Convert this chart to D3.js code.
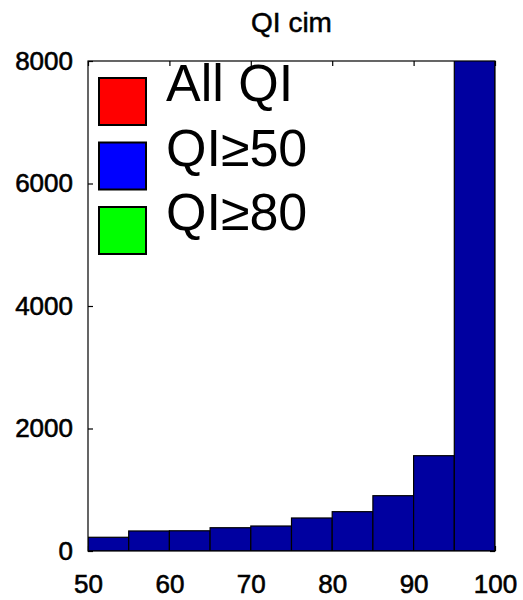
<!DOCTYPE html>
<html>
<head>
<meta charset="utf-8">
<script src="https://cdn.jsdelivr.net/npm/d3@7"></script>
<style>
  body { margin: 0; background: #fff; }
  text { font-family: "Liberation Sans", Arial, sans-serif; }
</style>
</head>
<body>
<div id="VizBox"></div>
<script>
// histogram bins (edges) and counts
var binStart = [50, 55, 60, 65, 70, 75, 80, 85, 90, 95];
var binWidth = 5;
var counts = [224, 327, 330, 380, 408, 539, 642, 903, 1556, 9500];

var xTicks = [50, 60, 70, 80, 90, 100];
var yTicks = [0, 2000, 4000, 6000, 8000];

var legendLabels = ["All QI", "QI\u226550", "QI\u226580"];
var legendColors = ["#ff0000", "#0000ff", "#00ff00"];

var W = 523, H = 600;
var margin = {top: 61, right: 28, bottom: 49, left: 88};
var width = W - margin.left - margin.right;
var height = H - margin.top - margin.bottom;

var svg = d3.select("#VizBox")
  .append("svg")
    .attr("width", W)
    .attr("height", H);

var g = svg.append("g")
    .attr("transform", "translate(" + margin.left + "," + margin.top + ")");

var x = d3.scaleLinear().domain([50, 100]).range([0, width]);
var y = d3.scaleLinear().domain([0, 8000]).range([height, 0]);

// title
svg.append("text")
  .attr("x", margin.left + width / 2)
  .attr("y", 32)
  .attr("text-anchor", "middle")
  .attr("font-size", "28px")
  .attr("stroke", "#000")
  .attr("stroke-width", 0.5)
  .text("QI cim");

// axes (ticks inward, drawn under the bars)
var xAxisBottom = g.append("g")
  .attr("transform", "translate(0," + height + ")")
  .call(d3.axisBottom(x).tickValues(xTicks).tickSizeInner(-5).tickSizeOuter(0).tickPadding(24).tickFormat(d3.format("d")));
var xAxisTop = g.append("g")
  .call(d3.axisTop(x).tickValues(xTicks).tickSizeInner(-5).tickSizeOuter(0).tickFormat(""));
var yAxisLeft = g.append("g")
  .call(d3.axisLeft(y).tickValues(yTicks).tickSizeInner(-5).tickSizeOuter(0).tickPadding(15).tickFormat(d3.format("d")));
var yAxisRight = g.append("g")
  .attr("transform", "translate(" + width + ",0)")
  .call(d3.axisRight(y).tickValues(yTicks).tickSizeInner(-5).tickSizeOuter(0).tickFormat(""));

[xAxisBottom, xAxisTop, yAxisLeft, yAxisRight].forEach(function(a) {
  a.select(".domain").remove();
  a.selectAll("line").attr("stroke", "#000").attr("stroke-width", 1.2);
  a.selectAll("text")
    .attr("font-size", "26px")
    .attr("fill", "#000")
    .attr("stroke", "#000")
    .attr("stroke-width", 0.6)
    .style("font-family", "'Liberation Sans', Arial, sans-serif");
});

// bars, clipped to the plot box
svg.append("defs").append("clipPath").attr("id", "plotClip")
  .append("rect").attr("x", 0).attr("y", 0).attr("width", width).attr("height", height);

g.append("g")
  .attr("clip-path", "url(#plotClip)")
  .selectAll("rect")
  .data(binStart)
  .enter()
  .append("rect")
    .attr("x", function(d) { return x(d); })
    .attr("y", function(d, i) { return y(counts[i]); })
    .attr("width", function(d) { return x(d + binWidth) - x(d); })
    .attr("height", function(d, i) { return height - y(counts[i]); })
    .attr("fill", "#0000a0")
    .attr("stroke", "#000")
    .attr("stroke-width", 1.2);

// box
g.append("rect")
  .attr("x", 0).attr("y", 0)
  .attr("width", width).attr("height", height)
  .attr("fill", "none")
  .attr("stroke", "#000")
  .attr("stroke-width", 1.2);

// legend
var legend = svg.append("g").attr("transform", "translate(98,77)");
var item = legend.selectAll("g")
  .data(legendLabels)
  .enter()
  .append("g")
    .attr("transform", function(d, i) { return "translate(0," + (i * 64.5) + ")"; });

item.append("rect")
  .attr("x", 1).attr("y", 1)
  .attr("width", 47).attr("height", 47)
  .attr("fill", function(d, i) { return legendColors[i]; })
  .attr("stroke", "#000")
  .attr("stroke-width", 2);

item.append("text")
  .attr("x", 68)
  .attr("y", 24)
  .attr("font-size", "52px")
  .attr("fill", "#000")
  .text(function(d) { return d; });
</script>
</body>
</html>
